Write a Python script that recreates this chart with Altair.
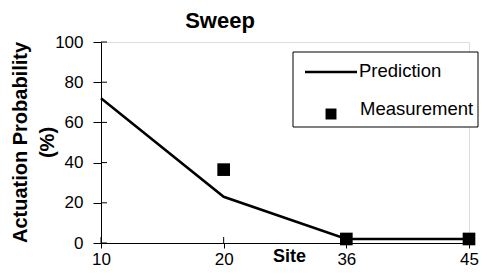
import altair as alt
import pandas as pd

sites = ["10", "20", "36", "45"]
prediction = [72, 23, 2, 2]
meas_sites = ["20", "36", "45"]
measurement = [36.5, 2, 2]
y_ticks = [0, 20, 40, 60, 80, 100]
series_names = ["Prediction", "Measurement"]
chart_title = "Sweep"

FONT = "Liberation Sans"

df_pred = pd.DataFrame({"site": sites, "value": prediction})
df_meas = pd.DataFrame({"site": meas_sites, "value": measurement})
df_yt = pd.DataFrame({"value": y_ticks})
df_xt = pd.DataFrame({"site": sites})
one = pd.DataFrame({"a": [0]})

xscale = alt.Scale(type="point", domain=sites, padding=0)
yscale = alt.Scale(domain=[0, 100])

xaxis = alt.Axis(
    title="Site", titleFontSize=18, titleFontWeight="bold", titleFont=FONT,
    titleX=188, titleY=18, titleBaseline="alphabetic", titleColor="black",
    labelFontSize=17, labelFont=FONT, labelColor="black", labelAngle=0,
    labelAlign="center", labelBaseline="top", labelFlush=False, labelOverlap=False,
    labelPadding=3, tickSize=5, tickColor="black", domainColor="black",
    grid=False,
)
yaxis = alt.Axis(
    title=["Actuation Probability", "(%)"], titleFontSize=20, titleFontWeight="bold",
    titleFont=FONT, titleColor="black", titleX=-91, titleY=100, titleAngle=-90,
    titleBaseline="top", titleLineHeight=27, titleAlign="center",
    values=y_ticks, labelFontSize=17, labelFont=FONT, labelColor="black",
    labelPadding=10, tickSize=8, tickColor="black", domainColor="black", grid=False,
)

X = alt.X("site:O", scale=xscale, axis=xaxis, sort=sites)
Y = alt.Y("value:Q", scale=yscale, axis=yaxis)

line = alt.Chart(df_pred).mark_line(color="black", strokeWidth=2.5).encode(x=X, y=Y)

pts = alt.Chart(df_meas).mark_point(shape="square", filled=True, color="black",
                                    size=160, opacity=1).encode(x=X, y=Y)

ytick_in = alt.Chart(df_yt).mark_rule(color="black", strokeWidth=1).encode(
    y=Y, x=alt.value(0), x2=alt.value(6)
)
xtick_in = alt.Chart(df_xt).mark_rule(color="black", strokeWidth=1).encode(
    x=X, y=alt.value(201), y2=alt.value(195)
)

title_mark = alt.Chart(one).mark_text(text=chart_title, align="center", baseline="alphabetic",
                                      fontSize=22, fontWeight="bold", font=FONT,
                                      color="black").encode(
    x=alt.value(119), y=alt.value(-14)
)

box = alt.Chart(one).mark_rect(fill="white", stroke="black", strokeWidth=1).encode(
    x=alt.value(192), x2=alt.value(377), y=alt.value(10), y2=alt.value(85)
)
leg_line = alt.Chart(one).mark_rule(color="black", strokeWidth=2.5).encode(
    x=alt.value(204), x2=alt.value(256), y=alt.value(30)
)
leg_t1 = alt.Chart(one).mark_text(text=series_names[0], align="left", baseline="alphabetic",
                                  fontSize=18.5, font=FONT, color="black").encode(
    x=alt.value(258), y=alt.value(35)
)
leg_sq = alt.Chart(one).mark_point(shape="square", filled=True, color="black", size=120,
                                   opacity=1).encode(
    x=alt.value(230), y=alt.value(72)
)
leg_t2 = alt.Chart(one).mark_text(text=series_names[1], align="left", baseline="alphabetic",
                                  fontSize=18.5, font=FONT, color="black").encode(
    x=alt.value(259), y=alt.value(73)
)

chart = alt.layer(
    line, ytick_in, xtick_in, pts, box, leg_line, leg_t1, leg_sq, leg_t2, title_mark
).properties(
    width=368, height=201,
    autosize=alt.AutoSizeParams(type="none"),
    padding={"left": 93, "top": 34, "right": 10, "bottom": 27},
).configure_view(stroke=None).configure(background="white")

chart.save("out.html", embed_options={"renderer": "svg", "actions": False})
